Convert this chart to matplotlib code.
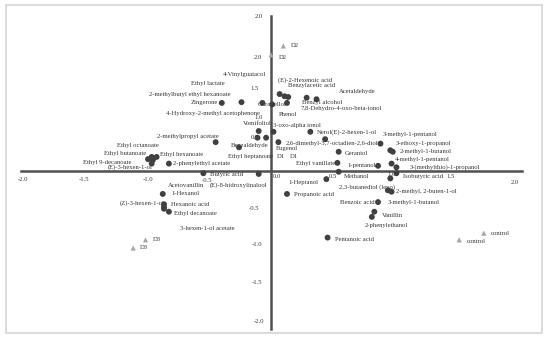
import matplotlib
matplotlib.use("Agg")
import matplotlib.pyplot as plt
from matplotlib.patches import Rectangle

# ---- data (score / loading coordinates) ----
compound_x = [-0.40, -0.24, -0.07, 0.01, 0.07, 0.11, 0.14, 0.29, 0.37, 0.13,
              -0.10, -0.11, -0.04, 0.02, -0.45, -0.26, 0.06, 0.32, 0.44, 0.89,
              0.97, 0.99, 0.55, 0.54, 0.87, 0.98, 1.02,
              -0.97, -0.93, -1.00, -0.96, -0.97, -0.83,
              -0.55, -0.10, -0.88, -0.87, -0.87, -0.87, -0.83,
              0.45, 0.55, 0.97, 1.02, 0.95, 0.98, 0.13, 0.87, 0.84, 0.82, 0.46]
compound_y = [0.92, 0.93, 0.92, 0.90, 1.04, 1.01, 1.00, 0.99, 0.97, 0.92,
              0.54, 0.45, 0.45, 0.53, 0.39, 0.32, 0.39, 0.53, 0.43, 0.37,
              0.28, 0.26, 0.26, 0.11, 0.07, 0.10, 0.05,
              0.19, 0.19, 0.16, 0.15, 0.10, 0.10,
              -0.03, -0.04, -0.31, -0.45, -0.49, -0.51, -0.55,
              -0.11, -0.01, -0.10, -0.03, -0.26, -0.28, -0.31, -0.42, -0.55, -0.62, -0.90]

sample_x = [0.10, 0.00, -1.02, -1.12, 1.73, 1.53]
sample_y = [1.69, 1.57, -0.93, -1.04, -0.84, -0.93]

label_text = ["D2", "D2", "4-Vinylguaiacol", "(E)-2-Hexenoic acid", "Ethyl lactate",
              "Benzylacetic acid", "Acetaldehyde", "2-methylbutyl ethyl hexanoate",
              "Zingerone", "Citronellol", "Benzyl alcohol", "7,8-Dehydro-4-oxo-beta-ionol",
              "4-Hydroxy-2-methyl acetophenone", "Phenol", "Vomifoliol", "3-oxo-alpha ionol",
              "Nerol(E)-2-hexen-1-ol", "3-methyl-1-pentanol", "2-methylpropyl acetate",
              "3-ethoxy-1-propanol", "2,6-dimethyl-3,7-octadien-2,6-diol", "Benzaldehyde",
              "Eugenol", "Ethyl octanoate", "2-methyl-1-butanol", "Geraniol", "Ethyl butanoate",
              "Ethyl hexanoate", "Ethyl heptanoate", "D1", "D1", "4-methyl-1-pentanol",
              "Ethyl 9-decanoate", "Ethyl vanillate", "2-phenylethyl acetate", "1-pentanol",
              "3-(methylthio)-1-propanol", "(E)-3-hexen-1-ol", "Butyric acid", "Methanol",
              "Isobutyric acid", "1-Heptanol", "Acetovanillin", "(E)-8-hidroxylinalool",
              "2,3-butanediol (levo)", "2-methyl, 2-buten-1-ol", "1-Hexanol", "Propanoic acid",
              "Benzoic acid", "3-methyl-1-butanol", "(Z)-3-hexen-1-ol", "Hexanoic acid",
              "Ethyl decanoate", "Vanillin", "2-phenylethanol", "3-hexen-1-ol acetate",
              "control", "control", "Pentanoic acid", "D3", "D3"]
label_x = [0.16, 0.06, -0.39, 0.06, -0.65,
           0.14, 0.55, -0.99,
           -0.65, -0.11, 0.25, 0.24,
           -0.85, 0.06, -0.23, 0.02,
           0.37, 0.91, -0.93,
           1.01, 0.12, -0.33,
           0.04, -1.25, 1.05, 0.60, -1.36,
           -0.90, -0.35, 0.05, 0.15, 1.01,
           -1.53, 0.20, -0.80, 0.62,
           1.13, -1.33, -0.50, 0.59,
           1.07, 0.14, -0.84, -0.50,
           0.55, 1.02, -0.81, 0.19,
           0.56, 0.95, -1.23, -0.81,
           -0.79, 0.90, 0.76, -0.74,
           1.79, 1.59, 0.52, -0.96, -1.07]
label_y = [1.69, 1.54, 1.31, 1.23, 1.18,
           1.15, 1.07, 1.03,
           0.92, 0.90, 0.92, 0.84,
           0.78, 0.76, 0.64, 0.61,
           0.53, 0.49, 0.46,
           0.37, 0.37, 0.34,
           0.30, 0.34, 0.26, 0.24, 0.24,
           0.22, 0.20, 0.20, 0.20, 0.16,
           0.11, 0.10, 0.10, 0.07,
           0.05, 0.05, -0.05, -0.07,
           -0.08, -0.16, -0.20, -0.19,
           -0.22, -0.28, -0.31, -0.32,
           -0.42, -0.42, -0.43, -0.45,
           -0.57, -0.60, -0.73, -0.78,
           -0.84, -0.95, -0.92, -0.93, -1.04]

xtick_text = ["-2.0", "-1.5", "-1.0", "-0.5", "0.0", "0.5", "1.0", "1.5", "2.0"]
xtick_x = [-2.02, -1.52, -1.00, -0.52, 0.05, 0.50, 0.98, 1.46, 1.98]
xtick_y = [-0.12, -0.12, -0.12, -0.13, -0.07, -0.07, -0.05, -0.08, -0.15]
ytick_text = ["2.0", "2.0", "1.5", "1.0", "0.5", "-0.5", "-1.0", "-1.5", "-2.0"]
ytick_x = [-0.10, -0.11, -0.13, -0.10, -0.13, -0.14, -0.11, -0.11, -0.10]
ytick_y = [2.09, 1.54, 1.11, 0.72, 0.45, -0.51, -0.99, -1.51, -2.03]

# ---- figure ----
fig = plt.figure(figsize=(5.5, 3.38), dpi=100)
ax = fig.add_axes([0, 0, 1, 1])
ax.set_xlim(-271 / 123, 279 / 123)
ax.set_ylim(-167 / 74, 171 / 74)
ax.axis("off")

fig.patches.append(Rectangle((0.011, 0.015), 0.974, 0.97, transform=fig.transFigure,
                             fill=False, edgecolor="#d4d4d4", linewidth=1.2))

ax.plot([-2.03, 2.04], [0, 0], color="#505050", lw=1.8, zorder=2)
ax.plot([0, 0], [2.10, -2.13], color="#505050", lw=1.8, zorder=2)

font = dict(family=["Liberation Serif", "DejaVu Serif"], fontsize=4.8, color="#333333")

for t, x, y in zip(xtick_text, xtick_x, xtick_y):
    ax.text(x, y, t, ha="center", va="center", zorder=3, **font)
for t, x, y in zip(ytick_text, ytick_x, ytick_y):
    ax.text(x, y, t, ha="center", va="center", zorder=3, **font)

for t, x, y in zip(label_text, label_x, label_y):
    ax.text(x, y, t, ha="left", va="center", zorder=3, **font)

ax.scatter(compound_x, compound_y, s=18, color="#404040", edgecolors="none", zorder=4)
ax.scatter(sample_x, sample_y, s=14, marker="^", color="#a6a6a6", edgecolors="none", zorder=4)

fig.savefig("out.png", dpi=100)
